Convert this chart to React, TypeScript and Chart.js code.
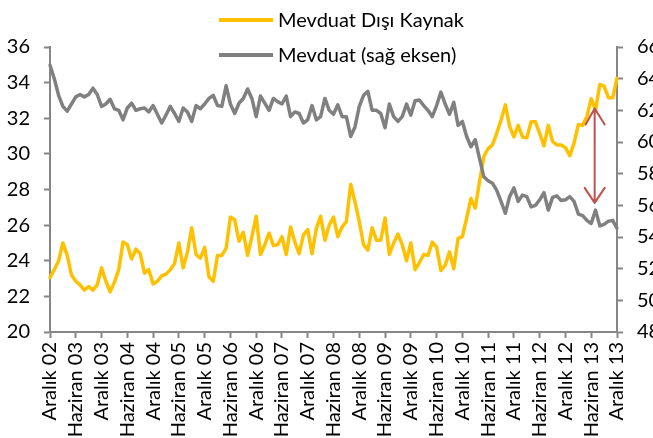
import React, { useEffect, useRef } from 'react';
import { Chart, registerables } from 'chart.js';

Chart.register(...registerables);

// ---- data ----
const MONTHS = ['Ocak', 'Şubat', 'Mart', 'Nisan', 'Mayıs', 'Haziran', 'Temmuz', 'Ağustos', 'Eylül', 'Ekim', 'Kasım', 'Aralık'];
const START_YEAR = 2002;
const START_MONTH = 11; // Aralık 2002
const POINT_COUNT = 133; // Aralık 02 .. Aralık 13
const LABEL_EVERY = 6;

const CATEGORIES: string[] = Array.from({ length: POINT_COUNT }, (_, i) => {
  const m = (START_MONTH + i) % 12;
  const y = START_YEAR + Math.floor((START_MONTH + i) / 12);
  return `${MONTHS[m]} ${String(y % 100).padStart(2, '0')}`;
});

const SERIES_LABELS = ['Mevduat Dışı Kaynak', 'Mevduat (sağ eksen)'];

// left axis (%)
const MEVDUAT_DISI: number[] = [
  23.05, 23.5, 24.0, 25.0, 24.3, 23.2, 22.85, 22.65, 22.35, 22.55,
  22.35, 22.65, 23.6, 22.85, 22.25, 22.8, 23.5, 25.05, 24.9, 24.1,
  24.65, 24.4, 23.3, 23.5, 22.7, 22.85, 23.15, 23.25, 23.5, 23.85,
  25.0, 23.6, 24.5, 25.85, 24.35, 24.15, 24.75, 23.1, 22.85, 24.3,
  24.3, 24.7, 26.45, 26.3, 25.1, 25.6, 24.3, 25.35, 26.5, 24.35,
  24.9, 25.55, 24.85, 24.9, 25.35, 24.35, 25.9, 25.05, 24.4, 25.45,
  25.75, 24.4, 25.8, 26.5, 25.15, 26.0, 26.45, 25.35, 25.9, 26.2,
  28.3, 27.3, 26.2, 24.9, 24.6, 25.85, 25.15, 25.15, 26.4, 24.35,
  25.0, 25.5, 24.9, 24.0, 25.0, 23.5, 23.9, 24.35, 24.3, 25.05,
  24.75, 23.45, 23.75, 24.5, 23.55, 25.25, 25.35, 26.4, 27.5, 26.95,
  28.45, 29.85, 30.3, 30.5, 31.15, 31.9, 32.75, 31.55, 30.95, 31.6,
  30.95, 30.9, 31.8, 31.8, 31.15, 30.45, 31.6, 30.7, 30.5, 30.5,
  30.35, 29.9, 30.6, 31.65, 31.6, 32.1, 33.1, 32.45, 33.9, 33.8,
  33.15, 33.15, 34.25,
];

// right axis (%)
const MEVDUAT: number[] = [
  64.85, 64.0, 62.95, 62.25, 61.95, 62.4, 62.85, 63.0, 62.85, 63.0,
  63.4, 63.0, 62.25, 62.4, 62.7, 62.1, 62.0, 61.4, 62.15, 62.45,
  62.0, 62.1, 62.15, 61.9, 62.3, 61.75, 61.2, 61.7, 62.25, 61.8,
  61.3, 62.15, 61.9, 61.3, 62.3, 62.1, 62.4, 62.75, 62.95, 62.3,
  62.25, 63.55, 62.4, 61.8, 62.45, 62.75, 63.35, 62.75, 61.6, 62.9,
  62.45, 62.0, 62.75, 62.55, 62.4, 62.9, 61.6, 61.9, 61.8, 61.2,
  61.4, 62.3, 61.4, 61.6, 62.75, 62.0, 61.75, 62.35, 61.6, 61.6,
  60.35, 60.95, 62.25, 62.95, 63.2, 62.0, 62.0, 61.8, 60.9, 62.4,
  61.6, 61.3, 61.6, 62.4, 61.7, 62.6, 62.65, 62.3, 62.0, 61.6,
  62.3, 63.15, 62.4, 61.75, 62.5, 61.05, 61.3, 60.35, 59.7, 60.15,
  58.95, 57.8, 57.55, 57.4, 56.95, 56.25, 55.5, 56.55, 57.1, 56.25,
  56.65, 56.55, 55.9, 56.0, 56.35, 56.8, 55.7, 56.5, 56.6, 56.3,
  56.35, 56.55, 56.25, 55.45, 55.35, 55.05, 54.85, 55.7, 54.7, 54.8,
  55.0, 55.05, 54.55,
];

const LEFT_MIN = 20, LEFT_MAX = 36, LEFT_STEP = 2;
const RIGHT_MIN = 48, RIGHT_MAX = 66, RIGHT_STEP = 2;

// double-headed arrow annotation (category index, left-axis values)
const ARROW_INDEX = 126.8;
const ARROW_TOP = 32.55;
const ARROW_BOTTOM = 27.25;

// ---- styles ----
const YELLOW = '#FFC000';
const GRAY = '#808080';
const AXIS = '#868686';
const ARROW_COLOR = '#C0504D';
const FONT_FAMILY = 'Lato, "Liberation Sans", sans-serif';
const FONT_SIZE = 20;

const legendPlugin = {
  id: 'customLegend',
  afterDraw(chart: any) {
    const ctx = chart.ctx;
    ctx.save();
    chart.data.datasets.forEach((ds: any, i: number) => {
      const y = 20 + i * 35;
      ctx.strokeStyle = ds.borderColor;
      ctx.lineWidth = 4;
      ctx.lineCap = 'butt';
      ctx.beginPath();
      ctx.moveTo(219, y);
      ctx.lineTo(273, y);
      ctx.stroke();
      ctx.fillStyle = '#000';
      ctx.font = `${FONT_SIZE}px ${FONT_FAMILY}`;
      ctx.textAlign = 'left';
      ctx.textBaseline = 'middle';
      ctx.fillText(ds.label, 278, y + 1);
    });
    ctx.restore();
  },
};

const arrowPlugin = {
  id: 'arrowAnnotation',
  afterDatasetsDraw(chart: any) {
    const ctx = chart.ctx;
    const x = chart.scales.x.getPixelForValue(ARROW_INDEX);
    const y1 = chart.scales.y.getPixelForValue(ARROW_TOP);
    const y2 = chart.scales.y.getPixelForValue(ARROW_BOTTOM);
    ctx.save();
    ctx.strokeStyle = ARROW_COLOR;
    ctx.lineWidth = 2;
    ctx.lineCap = 'round';
    ctx.lineJoin = 'round';
    ctx.beginPath();
    ctx.moveTo(x, y1);
    ctx.lineTo(x, y2);
    ctx.moveTo(x - 9, y1 + 16);
    ctx.lineTo(x, y1);
    ctx.lineTo(x + 10, y1 + 16);
    ctx.moveTo(x - 10, y2 - 15);
    ctx.lineTo(x, y2);
    ctx.lineTo(x + 10, y2 - 15);
    ctx.stroke();
    ctx.restore();
  },
};

export default function App() {
  const canvasRef = useRef<HTMLCanvasElement | null>(null);

  useEffect(() => {
    if (!canvasRef.current) return;
    const font = { family: FONT_FAMILY, size: FONT_SIZE };
    const chart = new Chart(canvasRef.current, {
      type: 'line',
      data: {
        labels: CATEGORIES,
        datasets: [
          {
            label: SERIES_LABELS[0],
            data: MEVDUAT_DISI,
            borderColor: YELLOW,
            backgroundColor: YELLOW,
            borderWidth: 3.5,
            pointRadius: 0,
            tension: 0,
            yAxisID: 'y',
            order: 1,
            borderJoinStyle: 'round',
            borderCapStyle: 'round',
          },
          {
            label: SERIES_LABELS[1],
            data: MEVDUAT,
            borderColor: GRAY,
            backgroundColor: GRAY,
            borderWidth: 3.5,
            pointRadius: 0,
            tension: 0,
            yAxisID: 'y1',
            order: 0,
            borderJoinStyle: 'round',
            borderCapStyle: 'round',
          },
        ],
      },
      options: {
        animation: false,
        responsive: true,
        maintainAspectRatio: false,
        layout: { padding: { top: 47, left: 0, right: 0, bottom: 0 } },
        plugins: {
          legend: { display: false },
          tooltip: { enabled: false },
        },
        scales: {
          x: {
            type: 'category',
            offset: false,
            grid: {
              display: true,
              drawOnChartArea: false,
              drawTicks: true,
              tickLength: 6,
              tickColor: AXIS,
              tickWidth: 2,
            },
            border: { display: true, color: AXIS, width: 2 },
            ticks: {
              autoSkip: false,
              minRotation: 90,
              maxRotation: 90,
              padding: 4,
              color: '#000',
              font,
              callback: (_v: any, i: number) => (i % LABEL_EVERY === 0 ? CATEGORIES[i] : null),
            },
            afterFit: (s: any) => { s.height = 106; },
          },
          y: {
            type: 'linear',
            position: 'left',
            min: LEFT_MIN,
            max: LEFT_MAX,
            grid: {
              display: true,
              drawOnChartArea: false,
              drawTicks: true,
              tickLength: 6,
              tickColor: AXIS,
              tickWidth: 2,
            },
            border: { display: true, color: AXIS, width: 2 },
            ticks: { stepSize: LEFT_STEP, padding: 14, color: '#000', font },
            afterFit: (s: any) => { s.width = 50; },
          },
          y1: {
            type: 'linear',
            position: 'right',
            min: RIGHT_MIN,
            max: RIGHT_MAX,
            grid: {
              display: true,
              drawOnChartArea: false,
              drawTicks: true,
              tickLength: 6,
              tickColor: AXIS,
              tickWidth: 2,
            },
            border: { display: true, color: AXIS, width: 2 },
            ticks: { stepSize: RIGHT_STEP, padding: 14, color: '#000', font },
            afterFit: (s: any) => { s.width = 36; },
          },
        },
      },
      plugins: [legendPlugin, arrowPlugin],
    });
    return () => chart.destroy();
  }, []);

  return (
    <div style={{ position: 'fixed', left: 0, top: 0, width: 653, height: 438, background: '#fff' }}>
      <canvas ref={canvasRef} />
    </div>
  );
}
